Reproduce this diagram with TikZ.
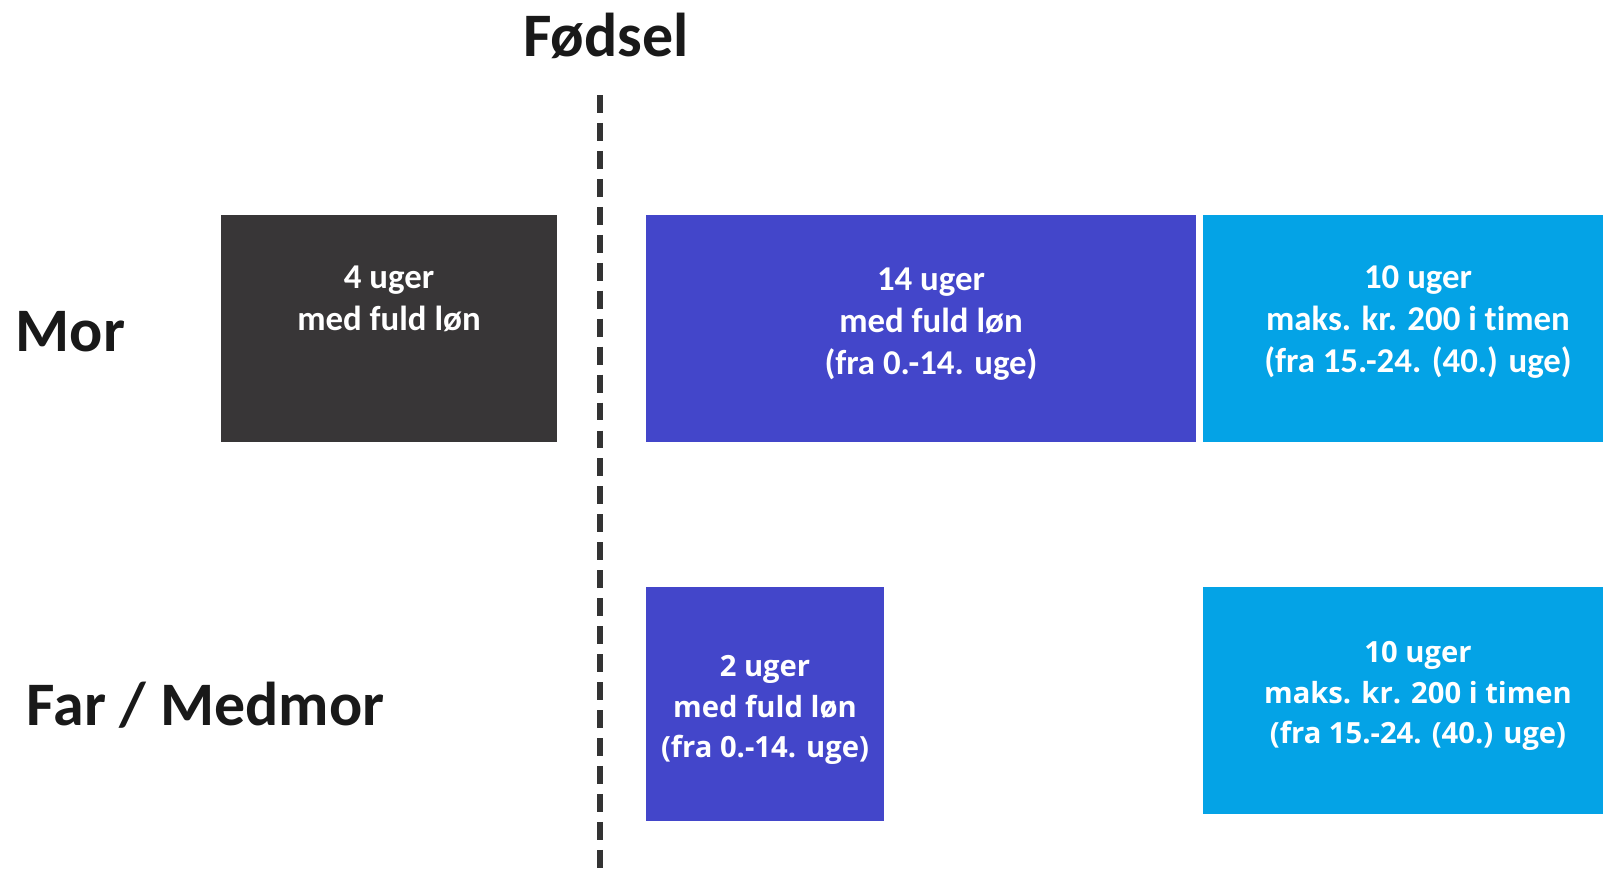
\documentclass[tikz,border=0pt]{standalone}
\usepackage{fontspec}
\setmainfont{Carlito}[Ligatures=NoCommon]
\newfontfamily\segoe{Open Sans}
\usepackage{tikz}
\usetikzlibrary{positioning}

\definecolor{morgraa}{HTML}{383637}
\definecolor{loenblaa}{HTML}{4346CA}
\definecolor{timeblaa}{HTML}{04A3E6}
\definecolor{linjegraa}{HTML}{333333}

\begin{document}
\begin{tikzpicture}[x=0.01cm, y=-0.01cm,
    kasse/.style={draw=none, rectangle, inner sep=0pt},
    kassetekst/.style={text=white, align=center, inner sep=0pt, font=\fontsize{9.9}{11.9}\selectfont\bfseries},
    smaltekst/.style={text=white, align=center, inner sep=0pt, font=\segoe\fontsize{8.3}{11.6}\selectfont\bfseries},
    rolle/.style={inner sep=0pt, anchor=west, text=black!90, font=\fontsize{17.6}{20}\selectfont\bfseries}]
  \useasboundingbox (0,0) rectangle (1603,869);

  % Kasser
  \node[kasse, fill=morgraa, minimum width=3.36cm, minimum height=2.27cm] (mor4) at (389,328.5) {};
  \node[kasse, fill=loenblaa, minimum width=5.50cm, minimum height=2.27cm] (mor14) at (921,328.5) {};
  \node[kasse, fill=timeblaa, minimum width=4.00cm, minimum height=2.27cm] (mor10) at (1403,328.5) {};
  \node[kasse, fill=loenblaa, minimum width=2.38cm, minimum height=2.34cm] (far2) at (765,704) {};
  \node[kasse, fill=timeblaa, minimum width=4.00cm, minimum height=2.27cm] (far10) at (1403,700.5) {};

  % Tekster
  \node[kassetekst] (mor4tekst) at (389,299) {4 uger\\med fuld løn};
  \node[kassetekst] (mor14tekst) at (931,324) {14 uger\\med fuld løn\\(fra 0.-14. uge)};
  \node[kassetekst] (mor10tekst) at (1418,322) {10 uger\\maks. kr. 200 i timen\\(fra 15.-24. (40.) uge)};
  \node[smaltekst] (far2tekst) at (765,710) {2 uger\\med fuld løn\\(fra 0.-14. uge)};
  \node[smaltekst] (far10tekst) at (1418,696) {10 uger\\maks. kr. 200 i timen\\(fra 15.-24. (40.) uge)};

  \node[rolle] (mor) at (15,332) {Mor};
  \node[rolle] (far) at (26,705) {Far / Medmor};
  \node[rolle, anchor=center] (fodsel) at (606,36) {Fødsel};

  % Fødselslinje
  \coordinate (linjetop) at (600,95);
  \coordinate (linjebund) at (600,869);
  \draw[linjegraa, line width=1.7pt, dash pattern=on 5.1pt off 2.85pt] (linjetop) -- (linjebund);
\end{tikzpicture}
\end{document}
